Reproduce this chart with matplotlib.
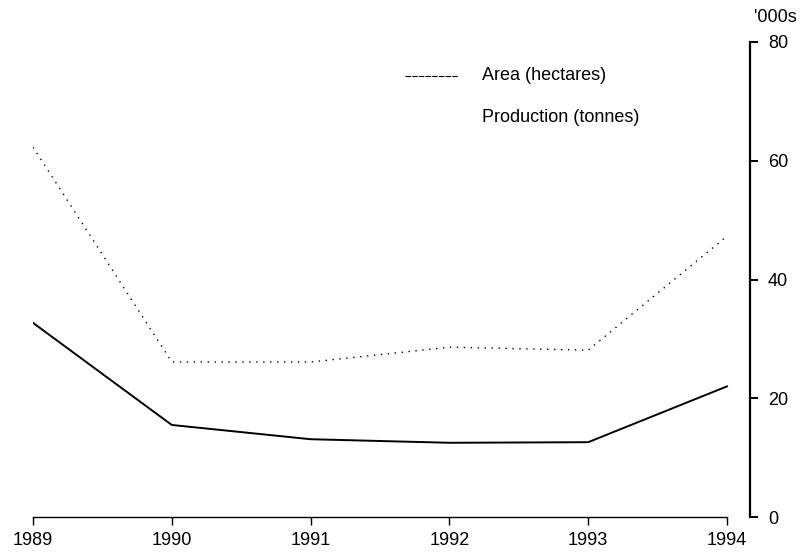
import matplotlib
matplotlib.use("Agg")
from matplotlib import pyplot as plt

years = [1989, 1990, 1991, 1992, 1993, 1994]
area = [62.3, 26.1, 26.1, 28.6, 28.1, 47.3]          # '000 hectares
production = [32.7, 15.5, 13.1, 12.5, 12.6, 22.0]    # '000 tonnes
y_ticks = [0, 20, 40, 60, 80]

plt.rcParams['font.family'] = ['Liberation Sans', 'DejaVu Sans']

W, H = 809, 558
fig = plt.figure(figsize=(W / 100, H / 100), dpi=100)

# axes box in pixels: left 33, right 750, bottom 517, top 42
x0, x1, y0, y1 = 33, 750, 517, 42
ax = fig.add_axes([x0 / W, 1 - y0 / H, (x1 - x0) / W, (y0 - y1) / H])
px_per_year = (727 - 33) / 5
px_per_unit = (y0 - y1) / 80
ax.set_xlim(1989, 1989 + (x1 - x0) / px_per_year)
ax.set_ylim(0, 80)

ax.plot(years, area, color='black', linestyle=(0, (1, 4)), linewidth=1.0)
ax.plot(years, production, color='black', linestyle='-', linewidth=1.4)

# axes styling
ax.spines['top'].set_visible(False)
ax.spines['left'].set_visible(False)
ax.spines['bottom'].set_bounds(1989, 1994)
ax.spines['bottom'].set_linewidth(1.0)
ax.spines['right'].set_linewidth(1.6)
ax.spines['right'].set_bounds(0, 80)

ax.set_xticks(years)
ax.set_xticklabels([str(y) for y in years])
ax.tick_params(axis='x', direction='out', length=6, width=1, labelsize=13, pad=5)

ax.yaxis.tick_right()
ax.set_yticks(y_ticks)
ax.tick_params(axis='y', direction='out', length=6, width=1.4, labelsize=13, pad=7)

fig.text(754 / W, 1 - 18 / H, "'000s", fontsize=13, ha='left', va='center')

# legend drawn by hand
def px_x(px):
    return 1989 + (px - x0) / px_per_year

def px_y(py):
    return (y0 - py) / px_per_unit

ax.plot([px_x(405), px_x(458)], [px_y(76)] * 2, color='black', linewidth=0.8,
        linestyle=(0, (5, 1)))
ax.text(px_x(482), px_y(76), 'Area (hectares)', fontsize=13, va='center', ha='left')
ax.text(px_x(482), px_y(117), 'Production (tonnes)', fontsize=13, va='center', ha='left')

plt.savefig('out.png', dpi=100)
plt.close()
